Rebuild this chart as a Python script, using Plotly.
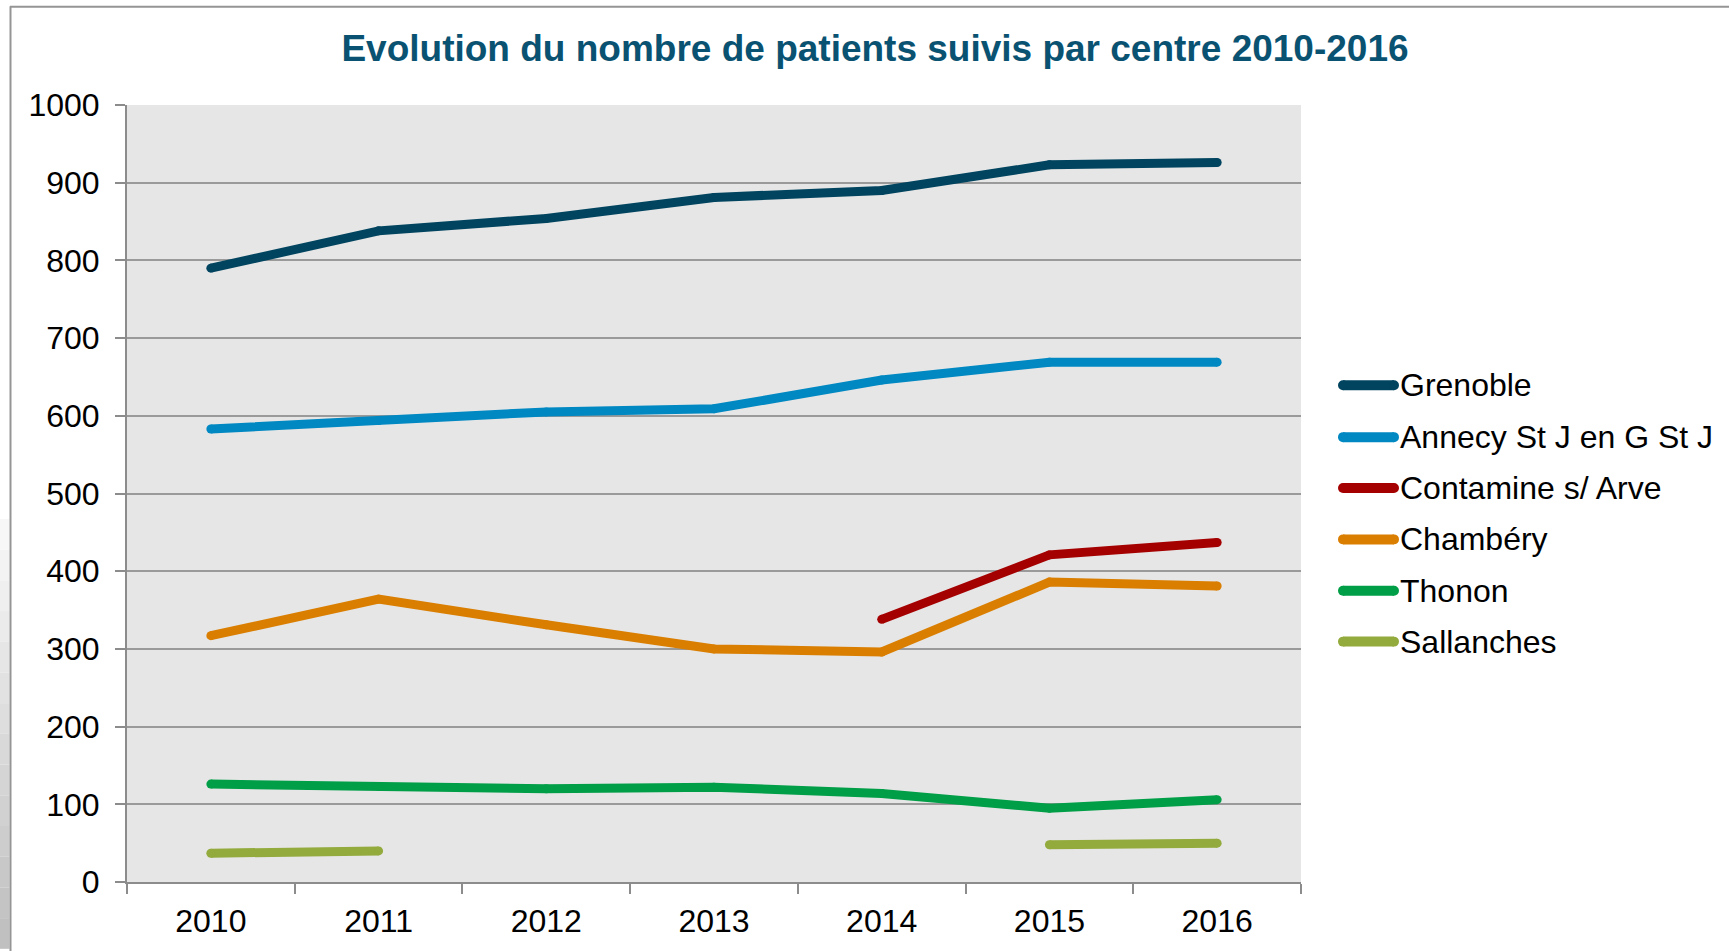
import plotly.graph_objects as go

# Patients followed per centre, 2010-2016
YEARS = ["2010", "2011", "2012", "2013", "2014", "2015", "2016"]

GRENOBLE = [790, 838, 854, 881, 890, 923, 926]
ANNECY = [583, 594, 605, 609, 646, 669, 669]
CONTAMINE = [None, None, None, None, 338, 421, 437]
CHAMBERY = [317, 364, 331, 300, 296, 386, 381]
THONON = [126, 123, 120, 122, 114, 95, 106]
SALLANCHES = [37, 40, None, None, None, 48, 50]

NAMES = ["Grenoble", "Annecy St J en G St J", "Contamine s/ Arve",
         "Chambéry", "Thonon", "Sallanches"]
SERIES = [GRENOBLE, ANNECY, CONTAMINE, CHAMBERY, THONON, SALLANCHES]
COLORS = ["#00445F", "#0088C2", "#A50000", "#DA7E00", "#009E47", "#93AA3C"]

TITLE = "Evolution du nombre de patients suivis par centre 2010-2016"

W, H = 1729, 951
L, R, T, B = 127, 1301, 105, 884          # plot area in pixels
FONT = "Liberation Sans, Arial, sans-serif"
AXIS_GRAY = "#8C8C8C"


def px(x):
    return (x - L) / (R - L)


def py(y):
    return (B - y) / (B - T)


fig = go.Figure()
for name, vals, color in zip(NAMES, SERIES, COLORS):
    fig.add_trace(go.Scatter(
        x=YEARS, y=vals, name=name, mode="lines+markers",
        line=dict(color=color, width=9),
        marker=dict(color=color, size=9),
        connectgaps=False, showlegend=False, cliponaxis=False,
    ))

shapes = []
annotations = []

# outer chart frame with its soft left edge
steps = 14
for i in range(steps):
    y0 = 520 + (951 - 520) * i / steps
    y1 = 520 + (951 - 520) * (i + 1) / steps
    g = int(250 - 60 * (i + 0.5) / steps)
    shapes.append(dict(type="rect", xref="paper", yref="paper",
                       x0=px(0), x1=px(9.5), y0=py(y1), y1=py(y0),
                       line=dict(width=0), fillcolor=f"rgb({g},{g},{g})",
                       layer="below"))
shapes.append(dict(type="line", xref="paper", yref="paper",
                   x0=px(10.5), x1=px(10.5), y0=py(6), y1=py(960),
                   line=dict(color="#959595", width=2)))
shapes.append(dict(type="line", xref="paper", yref="paper",
                   x0=px(10), x1=px(1740), y0=py(6.5), y1=py(6.5),
                   line=dict(color="#959595", width=2)))

# legend drawn as long line samples with labels
leg_y = [386, 438, 489, 540.5, 592, 643]
for name, color, yy in zip(NAMES, COLORS, leg_y):
    shapes.append(dict(type="line", xref="paper", yref="paper",
                       x0=px(1343), x1=px(1394), y0=py(yy), y1=py(yy),
                       line=dict(color=color, width=10)))
    for xe in (1343, 1394):
        shapes.append(dict(type="circle", xref="paper", yref="paper",
                           x0=px(xe - 5), x1=px(xe + 5),
                           y0=py(yy + 5), y1=py(yy - 5),
                           line=dict(width=0), fillcolor=color))
    annotations.append(dict(xref="paper", yref="paper", x=px(1398), y=py(yy),
                            text=name, showarrow=False, xanchor="left",
                            yanchor="middle",
                            font=dict(family=FONT, size=32, color="#000000")))

fig.update_layout(
    width=W, height=H, autosize=False,
    margin=dict(l=L, r=W - R, t=T, b=H - B, pad=0),
    paper_bgcolor="#FFFFFF", plot_bgcolor="#E6E6E6",
    font=dict(family=FONT, size=32, color="#000000"),
    title=dict(text=TITLE, xref="container", yref="container",
               x=875 / W, y=1 - 48 / H, xanchor="center", yanchor="middle",
               font=dict(family=FONT, size=37, color="#0A5272", weight="bold")),
    xaxis=dict(type="category", range=[-0.5, 6.5], tickson="boundaries",
               ticks="outside", ticklen=10, tickwidth=2, tickcolor=AXIS_GRAY,
               showline=True, linecolor=AXIS_GRAY, linewidth=2,
               showgrid=False, zeroline=False, ticklabelstandoff=10,
               tickfont=dict(family=FONT, size=32, color="#000000")),
    yaxis=dict(range=[0, 1000], dtick=100, tick0=0,
               ticks="outside", ticklen=10, tickwidth=2, tickcolor=AXIS_GRAY,
               showline=True, linecolor=AXIS_GRAY, linewidth=2,
               showgrid=True, gridcolor="#9A9A9A", gridwidth=2,
               zeroline=False, ticklabelstandoff=9,
               tickfont=dict(family=FONT, size=32, color="#000000")),
    shapes=shapes, annotations=annotations,
)

fig.write_html("out.html")
